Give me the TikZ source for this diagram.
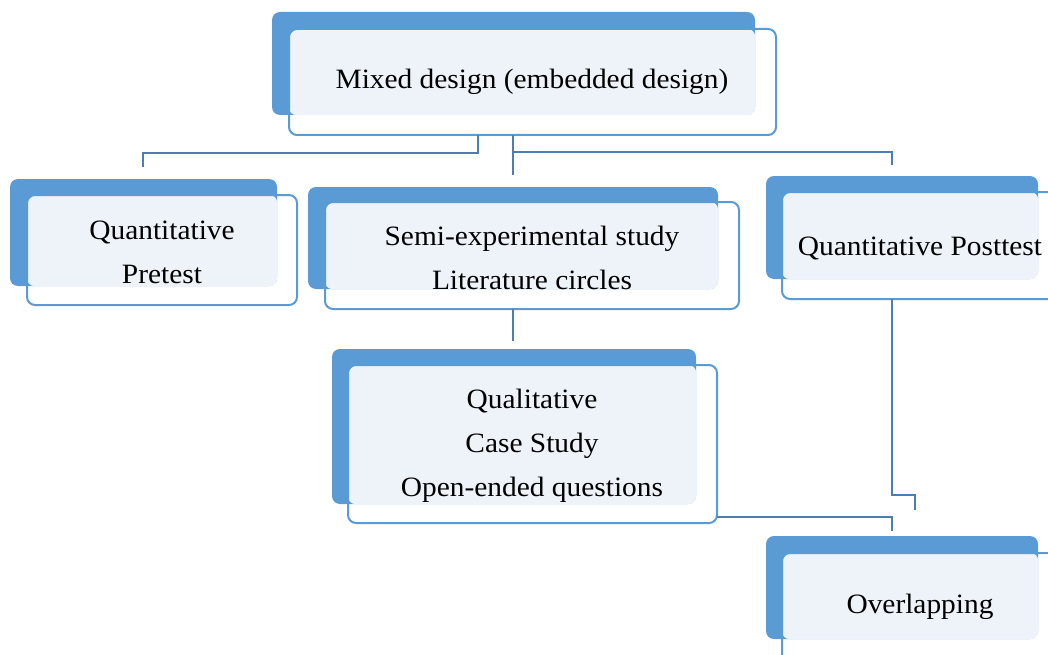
\documentclass[tikz,border=0pt]{standalone}
\usepackage{fontspec}
\setmainfont{Liberation Serif}[FakeStretch=1.05]
\usetikzlibrary{fit}
\definecolor{backblue}{HTML}{5B9BD5}
\definecolor{paleblue}{HTML}{EEF3FA}
\definecolor{linkblue}{HTML}{4A7EB5}
\begin{document}
\begin{tikzpicture}[x=1pt,y=-1pt,
  backbox/.style={fill=backblue,rounded corners=8pt,inner sep=0pt},
  frontbox/.style={draw=backblue,line width=2pt,rounded corners=8pt,inner sep=0pt},
  label/.style={font=\fontsize{28}{44}\selectfont,align=center,inner sep=0pt},
  link/.style={draw=linkblue,line width=2.5pt}]
\useasboundingbox (0,0) rectangle (1048,655);
% top box
\node[backbox,fit={(272,12) (755,115)}] (mixedback) {};
\node[fit={(289,29) (776,135)},inner sep=0pt] (mixed) {};
\fill[paleblue,rounded corners=8pt] (mixed.north west) rectangle (mixedback.south east);
\node[frontbox,fit={(289,29) (776,135)}] {};
\node[label] (mixedtxt) at (532,82) {Mixed design (embedded design)};
% second row
\node[backbox,fit={(10,179) (277,286)}] (pretestback) {};
\node[fit={(27,195) (297,305)},inner sep=0pt] (pretest) {};
\fill[paleblue,rounded corners=8pt] (pretest.north west) rectangle (pretestback.south east);
\node[frontbox,fit={(27,195) (297,305)}] {};
\node[label] (pretesttxt) at (162,252) {Quantitative\\Pretest};
\node[backbox,fit={(308,187) (718,289)}] (semiback) {};
\node[fit={(325,202) (739,309)},inner sep=0pt] (semi) {};
\fill[paleblue,rounded corners=8pt] (semi.north west) rectangle (semiback.south east);
\node[frontbox,fit={(325,202) (739,309)}] {};
\node[label] (semitxt) at (532,258) {Semi-experimental study\\Literature circles};
\node[backbox,fit={(766,176) (1038,279)}] (postback) {};
\node[fit={(782,192) (1060,299)},inner sep=0pt] (post) {};
\fill[paleblue,rounded corners=8pt] (post.north west) rectangle (postback.south east);
\node[frontbox,fit={(782,192) (1060,299)}] {};
\node[label] (posttxt) at (920,248) {Quantitative Posttest};
% lower boxes
\node[backbox,fit={(332,349) (696,504)}] (qualback) {};
\node[fit={(348,365) (717,523)},inner sep=0pt] (qual) {};
\fill[paleblue,rounded corners=8pt] (qual.north west) rectangle (qualback.south east);
\node[frontbox,fit={(348,365) (717,523)}] {};
\node[label] (qualtxt) at (532,446) {Qualitative\\Case Study\\Open-ended questions};
\node[backbox,fit={(766,536) (1038,639)}] (overlapback) {};
\node[fit={(782,553) (1060,662)},inner sep=0pt] (overlap) {};
\fill[paleblue,rounded corners=8pt] (overlap.north west) rectangle (overlapback.south east);
\node[frontbox,fit={(782,553) (1060,662)}] {};
\node[label] (overlaptxt) at (920,607) {Overlapping};
% connectors
\coordinate (pretestin) at (143,167);
\coordinate (semiin) at (513,175);
\coordinate (postin) at (892,165);
\coordinate (qualin) at (513,341);
\coordinate (overlapin) at (915,510);
\coordinate (overlapin2) at (892,531);
\draw[link] (mixed.south -| 478,0) |- (pretestin |- 0,153) -- (pretestin);
\draw[link] (mixed.south -| semiin) -- (semiin);
\draw[link] (semiin |- 0,152) -| (postin);
\draw[link] (semi.south -| qualin) -- (qualin);
\draw[link] (post.south -| postin) |- (overlapin |- 0,495) -- (overlapin);
\draw[link] (qual.east |- 0,517) -| (overlapin2);
\end{tikzpicture}
\end{document}
